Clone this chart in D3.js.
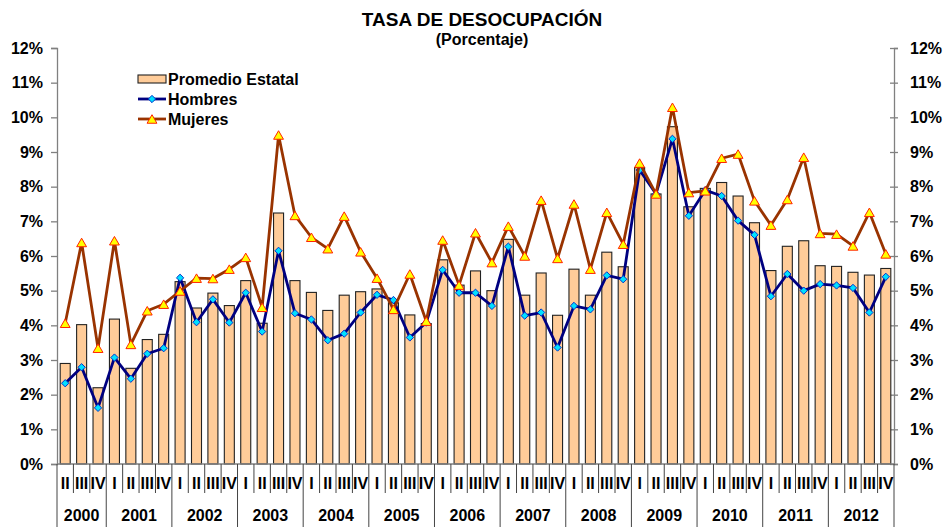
<!DOCTYPE html>
<html lang="es">
<head>
<meta charset="UTF-8" />
<title>Tasa de desocupación</title>
<style>
  body { margin: 0; background: #fff; }
  svg { display: block; font-family: Arial, "Liberation Sans", sans-serif; font-weight: bold; }
</style>
</head>
<body>
<script src="https://cdn.jsdelivr.net/npm/d3@7"></script>
<div id="chart"></div>
<script>
// años y trimestres (2000 empieza en el II trimestre)
const years = [2000, 2001, 2002, 2003, 2004, 2005, 2006, 2007, 2008, 2009, 2010, 2011, 2012];
const quarterNames = ["I", "II", "III", "IV"];
const firstYearQuarters = ["II", "III", "IV"];

// porcentajes
const promedio = [
  2.90, 4.02, 2.20, 4.18, 2.76, 3.59, 3.74, 5.26, 4.50, 4.93, 4.57, 5.29, 4.06, 7.24, 5.29, 4.95, 4.43,
  4.87, 4.97, 5.05, 4.65, 4.30, 4.05, 5.89, 5.16, 5.57, 5.00, 6.48, 4.87, 5.51, 4.29, 5.62, 4.87, 6.11, 5.69,
  8.55, 7.79, 9.73, 7.42, 7.95, 8.12, 7.73, 6.96, 5.58, 6.28, 6.44, 5.72, 5.70, 5.53, 5.45, 5.64
];
const hombres = [
  2.33, 2.79, 1.62, 3.07, 2.46, 3.18, 3.34, 5.37, 4.09, 4.75, 4.08, 4.94, 3.82, 6.15, 4.35, 4.17, 3.57,
  3.76, 4.37, 4.88, 4.73, 3.65, 4.08, 5.60, 4.94, 4.94, 4.56, 6.27, 4.28, 4.37, 3.36, 4.56, 4.46, 5.44, 5.33,
  8.48, 7.79, 9.38, 7.16, 7.90, 7.73, 7.02, 6.61, 4.84, 5.48, 5.00, 5.19, 5.15, 5.08, 4.37, 5.40
];
const mujeres = [
  4.06, 6.39, 3.34, 6.44, 3.45, 4.42, 4.61, 4.99, 5.36, 5.35, 5.62, 5.96, 4.52, 9.49, 7.17, 6.54, 6.21,
  7.15, 6.12, 5.36, 4.46, 5.48, 4.12, 6.46, 5.16, 6.67, 5.81, 6.86, 6.00, 7.61, 5.93, 7.50, 5.62, 7.26, 6.34,
  8.68, 7.79, 10.29, 7.83, 7.88, 8.82, 8.94, 7.59, 6.89, 7.63, 8.85, 6.65, 6.63, 6.29, 7.26, 6.06
];
const yTicks = [0, 1, 2, 3, 4, 5, 6, 7, 8, 9, 10, 11, 12];

// categorias: "2000-II", ...
const periods = [];
years.forEach((yr, k) => {
  const qs = k === 0 ? firstYearQuarters : quarterNames;
  qs.forEach((q, j) => periods.push({ key: yr + "-" + q, year: yr, q: q, first: j === 0 }));
});
const keys = periods.map(p => p.key);

const W = 944, H = 527;
const m = { left: 57, right: 894, top: 48, bottom: 464 };

const svg = d3.select("#chart").append("svg").attr("width", W).attr("height", H);

const x = d3.scaleBand().domain(keys).range([m.left, m.right]).paddingInner(0.39).paddingOuter(0.195);
const xSlot = d3.scaleBand().domain(keys).range([m.left, m.right]).padding(0);
const y = d3.scaleLinear().domain([0, 12]).range([m.bottom, m.top]);

// titulo
svg.append("text").attr("x", 482).attr("y", 26).attr("text-anchor", "middle")
  .style("font-size", "19px").text("TASA DE DESOCUPACIÓN");
svg.append("text").attr("x", 482).attr("y", 45).attr("text-anchor", "middle")
  .style("font-size", "16px").text("(Porcentaje)");

// ejes
const axL = svg.append("g").attr("transform", `translate(${m.left},0)`)
  .call(d3.axisLeft(y).tickValues(yTicks).tickFormat(d => d + "%").tickSize(6).tickPadding(8));
const axR = svg.append("g").attr("transform", `translate(${m.right},0)`)
  .call(d3.axisRight(y).tickValues(yTicks).tickFormat(d => d + "%").tickSize(4).tickPadding(12));
axR.selectAll(".tick line").attr("x1", -4);
[axL, axR].forEach(g => {
  g.select(".domain").attr("stroke", "#808080").attr("stroke-width", 1.3);
  g.selectAll(".tick line").attr("stroke", "#808080").attr("stroke-width", 1.3);
  g.selectAll(".tick text").attr("fill", "#000").style("font-size", "16px")
    .style("font-family", "Arial, 'Liberation Sans', sans-serif").style("font-weight", "bold");
});

// barras
svg.append("g").selectAll("rect").data(periods).join("rect")
  .attr("x", d => x(d.key))
  .attr("width", x.bandwidth())
  .attr("y", (d, i) => y(promedio[i]))
  .attr("height", (d, i) => y(0) - y(promedio[i]))
  .attr("fill", "#FFCC99")
  .attr("stroke", "#222")
  .attr("stroke-width", 1.1);

// linea base
svg.append("line").attr("x1", m.left).attr("x2", m.right).attr("y1", m.bottom).attr("y2", m.bottom)
  .attr("stroke", "#808080").attr("stroke-width", 1.3);

// eje x: trimestres y años
const xa = svg.append("g");
periods.forEach(p => {
  const x0 = xSlot(p.key);
  xa.append("line").attr("x1", x0).attr("x2", x0).attr("y1", m.bottom)
    .attr("y2", p.first ? H : 493).attr("stroke", "#444").attr("stroke-width", 1);
});
xa.append("line").attr("x1", m.right).attr("x2", m.right).attr("y1", m.bottom).attr("y2", H)
  .attr("stroke", "#444").attr("stroke-width", 1);
xa.selectAll("text.q").data(periods).join("text").attr("class", "q")
  .attr("x", d => x(d.key) + x.bandwidth() / 2).attr("y", 489)
  .attr("text-anchor", "middle").style("font-size", "16px").text(d => d.q);
years.forEach(yr => {
  const ps = periods.filter(p => p.year === yr);
  const a = xSlot(ps[0].key), b = xSlot(ps[ps.length - 1].key) + xSlot.bandwidth();
  xa.append("text").attr("x", (a + b) / 2).attr("y", 521).attr("text-anchor", "middle")
    .style("font-size", "16px").text(yr);
});

// lineas
const cx = d => x(d.key) + x.bandwidth() / 2;
function series(vals, color) {
  const line = d3.line().x((d, i) => cx(periods[i])).y(d => y(d));
  svg.append("path").datum(vals).attr("d", line)
    .attr("fill", "none").attr("stroke", color).attr("stroke-width", 2.8)
    .attr("stroke-linejoin", "round");
}
series(hombres, "#000080");
const diamond = d3.symbol().type(d3.symbolDiamond2).size(34);
svg.append("g").selectAll("path").data(hombres).join("path")
  .attr("d", diamond)
  .attr("transform", (d, i) => `translate(${cx(periods[i])},${y(d)})`)
  .attr("fill", "#00E0FF").attr("stroke", "#0033CC").attr("stroke-width", 1);

series(mujeres, "#993300");
const tri = d3.symbol().type(d3.symbolTriangle).size(42);
svg.append("g").selectAll("path").data(mujeres).join("path")
  .attr("d", tri)
  .attr("transform", (d, i) => `translate(${cx(periods[i])},${y(d) + 1.4})`)
  .attr("fill", "#FFFF00").attr("stroke", "#FF2200").attr("stroke-width", 1);

// leyenda
const lg = svg.append("g");
lg.append("rect").attr("x", 138).attr("y", 75).attr("width", 28).attr("height", 8)
  .attr("fill", "#FFCC99").attr("stroke", "#222").attr("stroke-width", 1.1);
lg.append("text").attr("x", 168).attr("y", 85).style("font-size", "16px").text("Promedio Estatal");
lg.append("line").attr("x1", 138).attr("x2", 166).attr("y1", 99).attr("y2", 99)
  .attr("stroke", "#000080").attr("stroke-width", 2.8);
lg.append("path").attr("d", diamond).attr("transform", "translate(152,99)")
  .attr("fill", "#00E0FF").attr("stroke", "#0033CC").attr("stroke-width", 1);
lg.append("text").attr("x", 168).attr("y", 105).style("font-size", "16px").text("Hombres");
lg.append("line").attr("x1", 138).attr("x2", 166).attr("y1", 119).attr("y2", 119)
  .attr("stroke", "#993300").attr("stroke-width", 2.8);
lg.append("path").attr("d", tri).attr("transform", "translate(152,120.4)")
  .attr("fill", "#FFFF00").attr("stroke", "#FF2200").attr("stroke-width", 1);
lg.append("text").attr("x", 168).attr("y", 125).style("font-size", "16px").text("Mujeres");
</script>
</body>
</html>
